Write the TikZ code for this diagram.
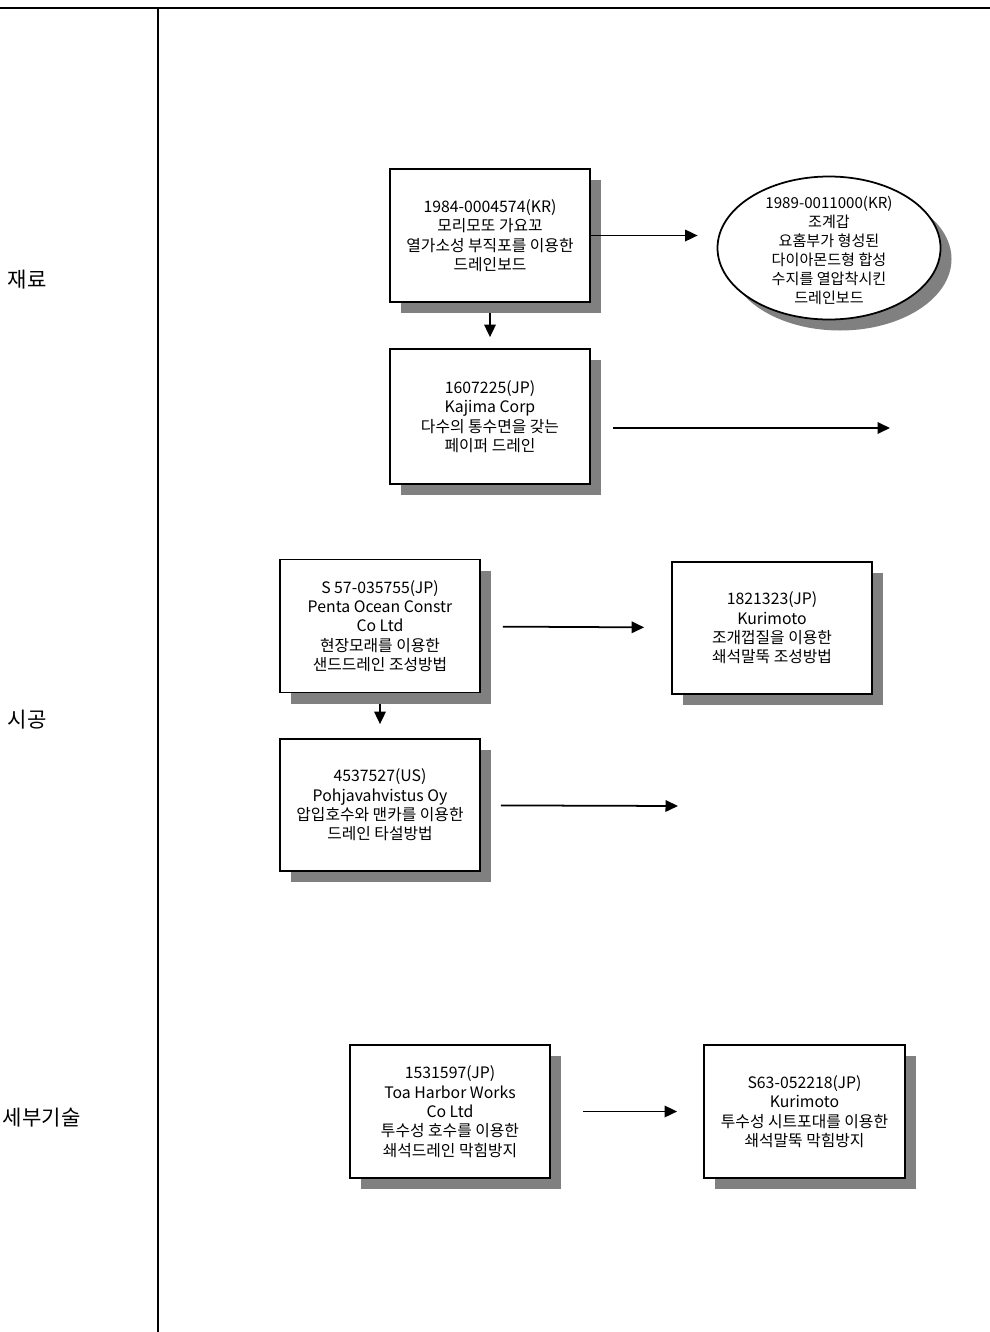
\documentclass[tikz,border=0pt]{standalone}
\usepackage{fontspec}
\newfontfamily\krfont{Noto Sans CJK KR}
\usetikzlibrary{arrows.meta,shapes.geometric,shadows}

\begin{document}
\begin{tikzpicture}[
    marco/.style={line width=1.1pt},
    sombra/.style={drop shadow={shadow xshift=0.22cm, shadow yshift=-0.22cm, fill=black!50, opacity=1}},
    caja/.style={draw, line width=1pt, fill=white, sombra, minimum width=4cm, minimum height=2.66cm,
                 align=center, inner sep=2pt, font=\krfont\fontsize{9}{11}\selectfont},
    ovalo/.style={ellipse, draw, line width=1pt, fill=white, sombra, minimum width=4.46cm, minimum height=2.86cm, inner sep=0pt},
    textoovalo/.style={align=center, inner sep=0pt, font=\krfont\fontsize{8.6}{10.8}\selectfont},
    rotulo/.style={anchor=west, inner sep=0pt, font=\krfont\fontsize{12}{14}\selectfont},
    flecha/.style={line width=1pt, -{Triangle[length=0.25cm, width=0.23cm]}}
  ]
  \useasboundingbox (0,0) rectangle (19.8,-26.64);

  % --- marco: linea superior y separador de columnas ---
  \draw[marco] (0,-0.16) -- (19.8,-0.16);
  \draw[marco] (3.16,-0.16) -- (3.16,-26.64);

  % --- rotulos de fila ---
  \node[rotulo] (filaMat) at (0.15,-5.6)   {재료};
  \node[rotulo] (filaCon) at (0.15,-14.4)  {시공};
  \node[rotulo] (filaDet) at (0.05,-22.36) {세부기술};

  % --- fila 1: 재료 ---
  \node[caja] (caja1) at (9.8,-4.71) {1984-0004574(KR)\\모리모또 가요꼬\\열가소성 부직포를 이용한\\드레인보드};
  \node[ovalo] (ovalo1) at (16.58,-4.96) {};
  \node[textoovalo] (texto1) at ([yshift=-0.04cm]ovalo1) {1989-0011000(KR)\\조계갑\\요홈부가 형성된\\다이아몬드형 합성\\수지를 열압착시킨\\드레인보드};
  \node[caja, minimum height=2.7cm] (caja3) at (9.8,-8.33) {1607225(JP)\\Kajima Corp\\다수의 통수면을 갖는\\페이퍼 드레인};
  \coordinate (finA) at (17.8,-8.56);

  \draw[flecha, shorten >=0.38cm] (caja1.east) -- (caja1.east -| ovalo1.west);
  \draw[flecha, shorten <=0.2cm, shorten >=0.22cm] (caja1) -- (caja3);
  \draw[flecha, shorten <=0.44cm] ([yshift=-0.23cm]caja3.east) -- (finA);

  % --- fila 2: 시공 ---
  \node[caja] (caja4) at (7.6,-12.52) {S 57-035755(JP)\\Penta Ocean Constr\\Co Ltd\\현장모래를 이용한\\샌드드레인 조성방법};
  \node[caja, minimum height=2.64cm] (caja5) at (15.44,-12.56) {1821323(JP)\\Kurimoto\\조개껍질을 이용한\\쇄석말뚝 조성방법};
  \node[caja, minimum height=2.64cm] (caja6) at (7.6,-16.1) {4537527(US)\\Pohjavahvistus Oy\\압입호수와 맨카를 이용한\\드레인 타설방법};
  \coordinate (finB) at (13.56,-16.12);

  \draw[flecha, shorten <=0.44cm, shorten >=0.54cm] (caja4) -- (caja5);
  \draw[flecha, shorten <=0.22cm, shorten >=0.28cm] (caja4) -- (caja6);
  \draw[flecha, shorten <=0.4cm] (caja6) -- (finB);

  % --- fila 3: 세부기술 ---
  \node[caja] (caja7) at (9.0,-22.23) {1531597(JP)\\Toa Harbor Works\\Co Ltd\\투수성 호수를 이용한\\쇄석드레인 막힘방지};
  \node[caja, minimum width=4.02cm] (caja8) at (16.09,-22.23) {S63-052218(JP)\\Kurimoto\\투수성 시트포대를 이용한\\쇄석말뚝 막힘방지};

  \draw[flecha, shorten <=0.64cm, shorten >=0.52cm] (caja7) -- (caja8);
\end{tikzpicture}
\end{document}
